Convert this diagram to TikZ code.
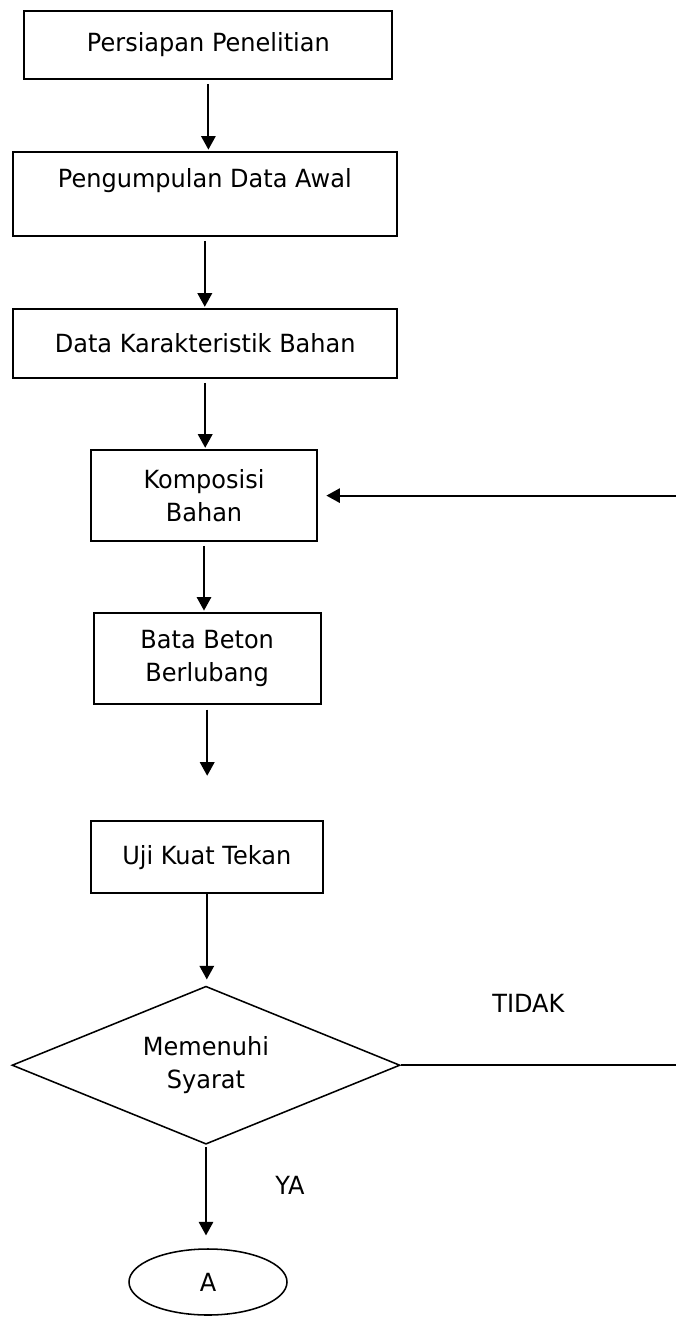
\documentclass[tikz,border=0pt]{standalone}
\usepackage{fontspec}
\setmainfont{DejaVu Sans}[FakeStretch=0.96]
\usetikzlibrary{arrows.meta, positioning, shapes.geometric}
\def\boxline{1.4pt}

\begin{document}
\begin{tikzpicture}[shorten >=1pt,->,>={Triangle[length=0.34cm,width=0.36cm]},line width=\boxline]
    \tikzstyle{every node}=[font=\fontsize{17.8pt}{23.4pt}\selectfont]
    \tikzstyle{step box}=[rectangle, draw=black, align=center, inner sep=0pt]
    \tikzstyle{wide box}=[step box, minimum width=9.6cm]
    \tikzstyle{narrow box}=[step box, minimum width=5.67cm]
    \tikzstyle{decision}=[diamond, draw=black, line width=1.1pt, aspect=2.46, inner sep=0pt, minimum width=9.7cm, minimum height=3.95cm, align=center]
    \tikzstyle{end node}=[ellipse, draw=black, line width=1.1pt, minimum width=3.95cm, minimum height=1.65cm, inner sep=0pt]
    \tikzstyle{annot}=[inner sep=0pt]

    \useasboundingbox (0,0) rectangle (16.875,-32.925);

    % Draw the process boxes
    \node[step box, minimum width=9.2cm, minimum height=1.7cm] (S-1) at (5.21,-1.12) {Persiapan Penelitian};
    \node[wide box, minimum height=2.1cm] (S-2) at (5.12,-4.85) {Pengumpulan Data Awal\\\mbox{}};
    \node[wide box, minimum height=1.72cm] (S-3) at (5.13,-8.59) {Data Karakteristik Bahan};
    \node[narrow box, minimum height=2.27cm] (S-4) at (5.10,-12.39) {Komposisi\\Bahan};
    \node[narrow box, minimum height=2.27cm] (S-5) at (5.18,-16.46) {Bata Beton\\Berlubang};
    \node[narrow box, minimum width=5.8cm, minimum height=1.8cm] (S-6) at (5.17,-21.43) {Uji Kuat Tekan};

    % Draw the decision and the end point
    \node[decision] (D) at (5.15,-26.63) {Memenuhi\\Syarat};
    \node[end node] (E) at (5.2,-32.05) {A};
    \node[annot] (no) at (13.21,-25.08) {TIDAK};
    \node[annot] (yes) at (7.25,-29.63) {YA};

    % Loose ends on the right margin
    \coordinate (back) at (16.95,-12.39);
    \coordinate (out) at (16.95,-26.63);
    \coordinate (gap) at (5.18,-19.43);

    % Connect every box with the one below it
    \foreach \source/\dest in {1/2,2/3,3/4,4/5}
        \draw[shorten <=0.1cm] (S-\source.south) -- (S-\source.south |- S-\dest.north);

    \draw[shorten <=0.12cm] (S-5.south) -- (gap);
    \draw[shorten >=0.15cm] (S-6.south) -- (S-6.south |- D.north);
    \draw[shorten <=0.05cm, shorten >=0.32cm] (D.south) -- (D.south |- E.north);

    % Back to the mix when the test fails
    \draw[-, shorten >=0pt] (D.east) -- (out);
    \draw[shorten >=0.2cm] (back) -- (S-4.east);
\end{tikzpicture}
\end{document}
